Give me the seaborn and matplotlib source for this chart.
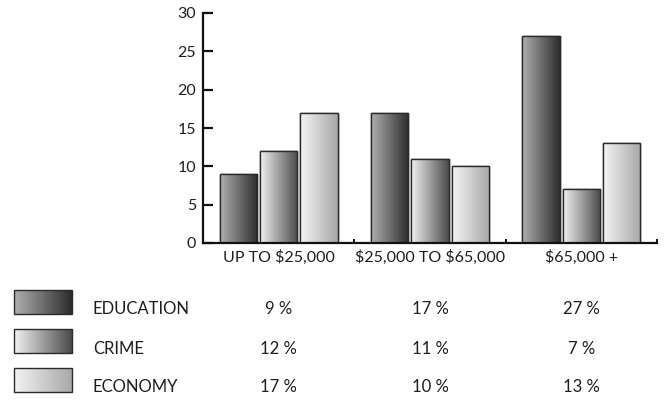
import numpy as np
import pandas as pd
import matplotlib
matplotlib.use("Agg")
import matplotlib.pyplot as plt
import matplotlib.transforms as mtransforms
from matplotlib.colors import LinearSegmentedColormap
from matplotlib.patches import Rectangle
import seaborn as sns

# Survey data: share of respondents naming each issue, by income bracket
income_groups = ["UP TO $25,000", "$25,000 TO $65,000", "$65,000 +"]
issues = ["EDUCATION", "CRIME", "ECONOMY"]
education = [9, 17, 27]
crime = [12, 11, 7]
economy = [17, 10, 13]
y_ticks = [0, 5, 10, 15, 20, 25, 30]

# Horizontal shading (left colour, right colour) for each issue
shades = {
    "EDUCATION": ("#b0b0b0", "#2c2c2c"),
    "CRIME": ("#f2f2f2", "#4a4a4a"),
    "ECONOMY": ("#f4f4f4", "#a8a8a8"),
}

df = pd.DataFrame({
    "group": income_groups * 3,
    "issue": np.repeat(issues, 3),
    "value": education + crime + economy,
})

sns.set_theme(style="white")
plt.rcParams["font.family"] = ["Lato", "DejaVu Sans"]
plt.rcParams["text.parse_math"] = False
text_color = "#1e1e1e"

fig = plt.figure(figsize=(6.65, 4.08), dpi=100)
ax = fig.add_axes([203 / 665, 1 - 243 / 408, (657 - 203) / 665, (243 - 13) / 408])

mid_colors = [LinearSegmentedColormap.from_list("m", shades[k])(0.5) for k in issues]
sns.barplot(data=df, x="group", y="value", hue="issue", order=income_groups,
            hue_order=issues, palette=mid_colors, width=0.8, gap=0.08,
            edgecolor="#2a2a2a", linewidth=1.0, legend=False, ax=ax)


def shade_patch(target_ax, patch, colors):
    cmap = LinearSegmentedColormap.from_list("shade", colors)
    x0, y0 = patch.get_x(), patch.get_y()
    w, h = patch.get_width(), patch.get_height()
    grad = np.linspace(0, 1, 256).reshape(1, -1)
    im = target_ax.imshow(grad, extent=[x0, x0 + w, y0, y0 + h], aspect="auto",
                          cmap=cmap, origin="lower", zorder=patch.get_zorder() + 0.1,
                          interpolation="bilinear")
    im.set_clip_path(patch)
    # outline on top of the shading
    target_ax.add_patch(Rectangle((x0, y0), w, h, fill=False, edgecolor="#2a2a2a",
                                  linewidth=1.0, zorder=patch.get_zorder() + 0.2))


for issue, container in zip(issues, ax.containers):
    for bar in container:
        shade_patch(ax, bar, shades[issue])

ax.set_xlim(-0.5, 2.5)
ax.set_ylim(0, 30)
ax.set_yticks(y_ticks)
ax.set_xlabel("")
ax.set_ylabel("")

for side in ["top", "right"]:
    ax.spines[side].set_visible(False)
for side in ["left", "bottom"]:
    ax.spines[side].set_color("#111111")
    ax.spines[side].set_linewidth(1.6)

ax.tick_params(axis="y", direction="in", length=7.5, width=1.6, color="#111111",
               labelsize=11.5, labelcolor=text_color, pad=5, left=True)
ax.tick_params(axis="x", which="major", length=0, labelsize=11.5,
               labelcolor=text_color, pad=5)
ax.set_xticks([0.5, 1.5, 2.5], minor=True)
ax.tick_params(axis="x", which="minor", direction="in", length=3, width=1.4,
               color="#111111", bottom=True)

# Table of values below the chart
overlay = fig.add_axes([0, 0, 1, 1], facecolor="none")
overlay.set_xlim(0, 665)
overlay.set_ylim(408, 0)
overlay.axis("off")

row_swatch_top = [290, 329, 368]
row_text_y = [309, 349, 387]
series_values = [education, crime, economy]
col_trans = mtransforms.blended_transform_factory(ax.transData, fig.transFigure)

for issue, top, ty, vals in zip(issues, row_swatch_top, row_text_y, series_values):
    sw = Rectangle((14, top), 58, 24, facecolor="none", edgecolor="none")
    overlay.add_patch(sw)
    shade_patch(overlay, sw, shades[issue])
    overlay.text(93, ty, issue, fontsize=12, color=text_color,
                 ha="left", va="center")
    for i, v in enumerate(vals):
        ax.text(i, 1 - ty / 408, f"{v} %", transform=col_trans, fontsize=12,
                color=text_color, ha="center", va="center", clip_on=False)

overlay.set_xlim(0, 665)
overlay.set_ylim(408, 0)

fig.savefig("out.png", dpi=100)
